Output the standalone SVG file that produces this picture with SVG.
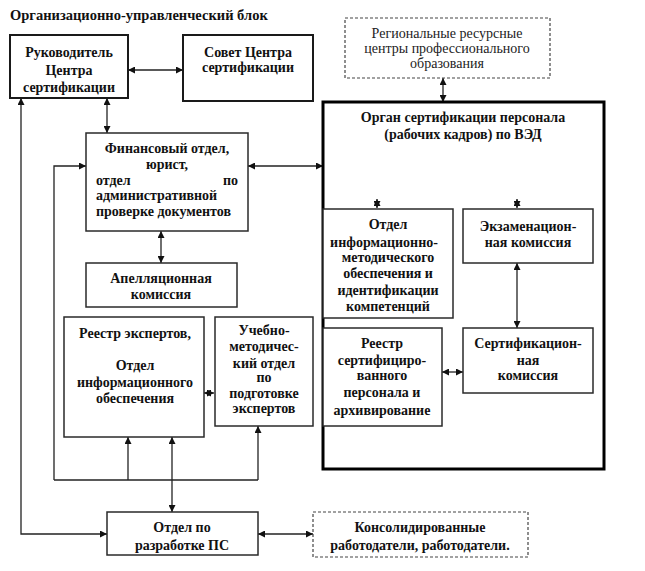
<svg xmlns="http://www.w3.org/2000/svg" width="645" height="571" viewBox="0 0 645 571">
<defs>
<style>
text{font-family:"Liberation Serif","Times New Roman",serif;font-size:14px;font-weight:bold;fill:#111;text-anchor:middle}
.reg{font-weight:normal;fill:#222}
.title{font-size:14.5px;text-anchor:start}
.box{fill:#fff;stroke:#2a2a2a;stroke-width:1.5}
.box2{fill:#fff;stroke:#1a1a1a;stroke-width:2}
.main{fill:none;stroke:#000;stroke-width:3}
.dash{fill:#fff;stroke:#444;stroke-width:1.2;stroke-dasharray:3,2}
.c{fill:none;stroke:#222;stroke-width:1.3}
</style>
<marker id="a" viewBox="0 0 10 10" refX="10" refY="5" markerWidth="7" markerHeight="7" markerUnits="userSpaceOnUse" orient="auto-start-reverse"><path d="M0,0 L10,5 L0,10 z" fill="#111"/></marker>
</defs>
<rect width="645" height="571" fill="#fff"/>
<text class="title" x="10" y="20">Организационно-управленческий  блок</text>

<g id="connectors">
<line class="c" x1="128" y1="70" x2="183" y2="70" marker-start="url(#a)" marker-end="url(#a)"/>
<line class="c" x1="107" y1="98" x2="107" y2="133" marker-start="url(#a)" marker-end="url(#a)"/>
<path class="c" d="M21,98 L21,534 L107,534" marker-start="url(#a)" marker-end="url(#a)"/>
<line class="c" x1="248" y1="166" x2="323" y2="166" marker-start="url(#a)" marker-end="url(#a)"/>
<line class="c" x1="161" y1="231" x2="161" y2="263" marker-start="url(#a)" marker-end="url(#a)"/>
<path class="c" d="M54,480 L54,166 L86,166" marker-end="url(#a)"/>
<line class="c" x1="54" y1="480" x2="258" y2="480"/>
<line class="c" x1="128" y1="480" x2="128" y2="437" marker-end="url(#a)"/>
<line class="c" x1="258" y1="480" x2="258" y2="426" marker-end="url(#a)"/>
<line class="c" x1="172" y1="437" x2="172" y2="512" marker-start="url(#a)" marker-end="url(#a)"/>
<line class="c" x1="443" y1="78" x2="443" y2="102" marker-start="url(#a)" marker-end="url(#a)"/>
<line class="c" x1="377" y1="199" x2="377" y2="208" marker-start="url(#a)" marker-end="url(#a)"/>
<line class="c" x1="517" y1="199" x2="517" y2="208" marker-start="url(#a)" marker-end="url(#a)"/>
<line class="c" x1="443" y1="242" x2="452" y2="242" marker-start="url(#a)" marker-end="url(#a)"/>
<line class="c" x1="204" y1="393" x2="214" y2="393" marker-start="url(#a)" marker-end="url(#a)"/>
<line class="c" x1="517" y1="263" x2="517" y2="328" marker-start="url(#a)" marker-end="url(#a)"/>
<line class="c" x1="442" y1="372" x2="463" y2="372" marker-start="url(#a)" marker-end="url(#a)"/>
<line class="c" x1="258" y1="534" x2="313" y2="534" marker-start="url(#a)" marker-end="url(#a)"/>
</g>

<g id="rukovoditel">
<rect class="box2" x="10" y="35" width="118" height="63"/>
<text x="69" y="57">Руководитель</text>
<text x="69" y="75">Центра</text>
<text x="69" y="92">сертификации</text>
</g>

<g id="sovet">
<rect class="box2" x="183" y="35" width="130" height="66"/>
<text x="248" y="57">Совет Центра</text>
<text x="248" y="72">сертификации</text>
</g>

<g id="regional">
<rect class="dash" x="345" y="18" width="205" height="60"/>
<text class="reg" x="447" y="38">Региональные ресурсные</text>
<text class="reg" x="447" y="53">центры профессионального</text>
<text class="reg" x="447" y="68">образования</text>
</g>

<g id="finans">
<rect class="box" x="86" y="133" width="162" height="98"/>
<text x="167" y="153">Финансовый отдел,</text>
<text x="167" y="169">юрист,</text>
<text x="96" y="185" style="text-anchor:start">отдел</text>
<text x="238" y="185" style="text-anchor:end">по</text>
<text x="96" y="200" style="text-anchor:start">административной</text>
<text x="96" y="216" style="text-anchor:start">проверке документов</text>
</g>

<g id="apel">
<rect class="box" x="86" y="263" width="151" height="44"/>
<text x="161" y="283">Апелляционная</text>
<text x="161" y="299">комиссия</text>
</g>

<g id="organ">
<rect class="main" x="323" y="102" width="281" height="367"/>
<text x="463" y="122">Орган сертификации персонала</text>
<text x="463" y="139">(рабочих кадров) по ВЭД</text>
</g>

<g id="otdel-inf-met">
<rect class="box" x="323" y="209" width="130" height="109"/>
<text x="388" y="229">Отдел</text>
<text x="384" y="247">информационно-</text>
<text x="388" y="262">методического</text>
<text x="388" y="278">обеспечения и</text>
<text x="388" y="295">идентификации</text>
<text x="388" y="311">компетенций</text>
</g>

<g id="ekzam">
<rect class="box" x="463" y="209" width="130" height="54"/>
<text x="528" y="231">Экзаменацион-</text>
<text x="528" y="247">ная комиссия</text>
</g>

<g id="reestr-sert">
<rect class="box" x="323" y="328" width="119" height="98"/>
<text x="382" y="348">Реестр</text>
<text x="382" y="365">сертифициро-</text>
<text x="382" y="380">ванного</text>
<text x="382" y="397">персонала и</text>
<text x="382" y="415">архивирование</text>
</g>

<g id="sertif">
<rect class="box" x="463" y="328" width="130" height="65"/>
<text x="528" y="348">Сертификацион-</text>
<text x="528" y="365">ная</text>
<text x="528" y="380">комиссия</text>
</g>

<g id="reestr-ekspertov">
<rect class="box" x="64" y="317" width="140" height="120"/>
<text x="135" y="338">Реестр экспертов,</text>
<text x="135" y="370">Отдел</text>
<text x="135" y="387">информационного</text>
<text x="135" y="403">обеспечения</text>
</g>

<g id="uchebno">
<rect class="box" x="215" y="317" width="98" height="109"/>
<text x="264" y="335">Учебно-</text>
<text x="264" y="351">методичес-</text>
<text x="264" y="368">кий  отдел</text>
<text x="264" y="382">по</text>
<text x="264" y="398">подготовке</text>
<text x="264" y="413">экспертов</text>
</g>

<g id="otdel-ps">
<rect class="box" x="107" y="512" width="151" height="43"/>
<text x="182" y="532">Отдел по</text>
<text x="182" y="550">разработке ПС</text>
</g>

<g id="konsol">
<rect class="dash" x="313" y="512" width="215" height="45"/>
<text x="420" y="532">Консолидированные</text>
<text x="420" y="550">работодатели, работодатели.</text>
</g>
</svg>
